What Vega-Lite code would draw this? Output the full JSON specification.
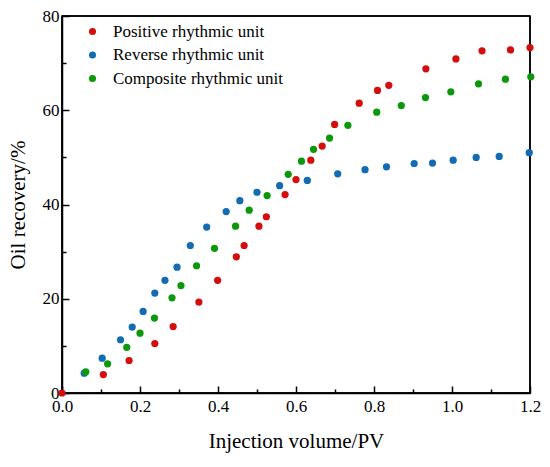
{
  "$schema": "https://vega.github.io/schema/vega-lite/v6.json",
  "autosize": "none",
  "width": 468,
  "height": 377,
  "padding": {"left": 62, "top": 16, "right": 20, "bottom": 74},
  "background": "white",
  "config": {
    "font": "Liberation Serif",
    "view": {"stroke": "black", "strokeWidth": 1.5},
    "axis": {
      "labelFont": "Liberation Serif",
      "titleFont": "Liberation Serif",
      "labelFontSize": 17,
      "titleFontSize": 21,
      "titleFontWeight": "normal",
      "labelColor": "black",
      "titleColor": "black",
      "domainColor": "black",
      "domainWidth": 1.5,
      "tickColor": "black",
      "tickWidth": 1.5,
      "labelFlush": false,
      "grid": false
    }
  },
  "data": {
    "values": [
      {"series": "Positive rhythmic unit", "pv": 0.0, "rec": 0.0},
      {"series": "Positive rhythmic unit", "pv": 0.106, "rec": 3.9},
      {"series": "Positive rhythmic unit", "pv": 0.172, "rec": 6.9},
      {"series": "Positive rhythmic unit", "pv": 0.238, "rec": 10.5},
      {"series": "Positive rhythmic unit", "pv": 0.285, "rec": 14.1},
      {"series": "Positive rhythmic unit", "pv": 0.351, "rec": 19.3},
      {"series": "Positive rhythmic unit", "pv": 0.399, "rec": 23.9},
      {"series": "Positive rhythmic unit", "pv": 0.447, "rec": 28.9},
      {"series": "Positive rhythmic unit", "pv": 0.467, "rec": 31.3},
      {"series": "Positive rhythmic unit", "pv": 0.505, "rec": 35.4},
      {"series": "Positive rhythmic unit", "pv": 0.524, "rec": 37.4},
      {"series": "Positive rhythmic unit", "pv": 0.572, "rec": 42.1},
      {"series": "Positive rhythmic unit", "pv": 0.6, "rec": 45.3},
      {"series": "Positive rhythmic unit", "pv": 0.638, "rec": 49.4},
      {"series": "Positive rhythmic unit", "pv": 0.667, "rec": 52.4},
      {"series": "Positive rhythmic unit", "pv": 0.699, "rec": 57.0},
      {"series": "Positive rhythmic unit", "pv": 0.762, "rec": 61.5},
      {"series": "Positive rhythmic unit", "pv": 0.809, "rec": 64.2},
      {"series": "Positive rhythmic unit", "pv": 0.838, "rec": 65.3},
      {"series": "Positive rhythmic unit", "pv": 0.933, "rec": 68.8},
      {"series": "Positive rhythmic unit", "pv": 1.01, "rec": 70.9},
      {"series": "Positive rhythmic unit", "pv": 1.077, "rec": 72.6},
      {"series": "Positive rhythmic unit", "pv": 1.15, "rec": 72.8},
      {"series": "Positive rhythmic unit", "pv": 1.2, "rec": 73.3},
      {"series": "Reverse rhythmic unit", "pv": 0.057, "rec": 4.2},
      {"series": "Reverse rhythmic unit", "pv": 0.103, "rec": 7.4},
      {"series": "Reverse rhythmic unit", "pv": 0.15, "rec": 11.3},
      {"series": "Reverse rhythmic unit", "pv": 0.18, "rec": 14.0},
      {"series": "Reverse rhythmic unit", "pv": 0.208, "rec": 17.3},
      {"series": "Reverse rhythmic unit", "pv": 0.238, "rec": 21.2},
      {"series": "Reverse rhythmic unit", "pv": 0.264, "rec": 23.9},
      {"series": "Reverse rhythmic unit", "pv": 0.295, "rec": 26.7},
      {"series": "Reverse rhythmic unit", "pv": 0.329, "rec": 31.3},
      {"series": "Reverse rhythmic unit", "pv": 0.371, "rec": 35.2},
      {"series": "Reverse rhythmic unit", "pv": 0.421, "rec": 38.5},
      {"series": "Reverse rhythmic unit", "pv": 0.456, "rec": 40.8},
      {"series": "Reverse rhythmic unit", "pv": 0.5, "rec": 42.6},
      {"series": "Reverse rhythmic unit", "pv": 0.558, "rec": 44.0},
      {"series": "Reverse rhythmic unit", "pv": 0.629, "rec": 45.1},
      {"series": "Reverse rhythmic unit", "pv": 0.707, "rec": 46.5},
      {"series": "Reverse rhythmic unit", "pv": 0.777, "rec": 47.4},
      {"series": "Reverse rhythmic unit", "pv": 0.832, "rec": 48.0},
      {"series": "Reverse rhythmic unit", "pv": 0.903, "rec": 48.7},
      {"series": "Reverse rhythmic unit", "pv": 0.95, "rec": 48.8},
      {"series": "Reverse rhythmic unit", "pv": 1.003, "rec": 49.4},
      {"series": "Reverse rhythmic unit", "pv": 1.062, "rec": 50.0},
      {"series": "Reverse rhythmic unit", "pv": 1.121, "rec": 50.2},
      {"series": "Reverse rhythmic unit", "pv": 1.198, "rec": 51.0},
      {"series": "Composite rhythmic unit", "pv": 0.061, "rec": 4.5},
      {"series": "Composite rhythmic unit", "pv": 0.117, "rec": 6.2},
      {"series": "Composite rhythmic unit", "pv": 0.166, "rec": 9.7},
      {"series": "Composite rhythmic unit", "pv": 0.2, "rec": 12.7},
      {"series": "Composite rhythmic unit", "pv": 0.237, "rec": 15.9},
      {"series": "Composite rhythmic unit", "pv": 0.282, "rec": 20.2},
      {"series": "Composite rhythmic unit", "pv": 0.305, "rec": 22.8},
      {"series": "Composite rhythmic unit", "pv": 0.345, "rec": 27.0},
      {"series": "Composite rhythmic unit", "pv": 0.391, "rec": 30.7},
      {"series": "Composite rhythmic unit", "pv": 0.445, "rec": 35.4},
      {"series": "Composite rhythmic unit", "pv": 0.48, "rec": 38.8},
      {"series": "Composite rhythmic unit", "pv": 0.526, "rec": 41.9},
      {"series": "Composite rhythmic unit", "pv": 0.58, "rec": 46.4},
      {"series": "Composite rhythmic unit", "pv": 0.614, "rec": 49.2},
      {"series": "Composite rhythmic unit", "pv": 0.645, "rec": 51.7},
      {"series": "Composite rhythmic unit", "pv": 0.686, "rec": 54.1},
      {"series": "Composite rhythmic unit", "pv": 0.733, "rec": 56.8},
      {"series": "Composite rhythmic unit", "pv": 0.807, "rec": 59.6},
      {"series": "Composite rhythmic unit", "pv": 0.87, "rec": 61.0},
      {"series": "Composite rhythmic unit", "pv": 0.932, "rec": 62.7},
      {"series": "Composite rhythmic unit", "pv": 0.997, "rec": 63.9},
      {"series": "Composite rhythmic unit", "pv": 1.068, "rec": 65.6},
      {"series": "Composite rhythmic unit", "pv": 1.137, "rec": 66.6},
      {"series": "Composite rhythmic unit", "pv": 1.202, "rec": 67.1}
    ]
  },
  "layer": [
    {
      "mark": {"type": "point", "opacity": 0},
      "encoding": {
        "x": {
          "field": "pv", "type": "quantitative",
          "scale": {"domain": [0, 1.2], "nice": false, "zero": false},
          "axis": {"orient": "bottom", "values": [0.1, 0.3, 0.5, 0.7, 0.9, 1.1], "labels": false, "tickSize": -4, "domain": false, "title": null}
        },
        "y": {
          "field": "rec", "type": "quantitative",
          "scale": {"domain": [0, 80], "nice": false, "zero": false},
          "axis": {"orient": "left", "values": [10, 30, 50, 70], "labels": false, "tickSize": -4, "domain": false, "title": null}
        }
      }
    },
    {
      "data": {
        "values": [
          {"xa": 0, "xb": 1.2, "ya": 80, "yb": 80},
          {"xa": 1.2, "xb": 1.2, "ya": 0, "yb": 80},
          {"xa": 0, "xb": 1.2, "ya": 0, "yb": 0},
          {"xa": 0, "xb": 0, "ya": 0, "yb": 80}
        ]
      },
      "mark": {"type": "rule", "color": "black", "strokeWidth": 1.5, "clip": false},
      "encoding": {
        "x": {"field": "xa", "type": "quantitative", "scale": {"domain": [0, 1.2], "nice": false, "zero": false}, "axis": null},
        "x2": {"field": "xb"},
        "y": {"field": "ya", "type": "quantitative", "scale": {"domain": [0, 80], "nice": false, "zero": false}, "axis": null},
        "y2": {"field": "yb"}
      }
    },
    {
      "mark": {"type": "circle", "size": 52, "opacity": 1, "clip": false},
      "encoding": {
        "x": {
          "field": "pv", "type": "quantitative",
          "title": "Injection volume/PV",
          "scale": {"domain": [0, 1.2], "nice": false, "zero": false},
          "axis": {"orient": "bottom", "values": [0, 0.2, 0.4, 0.6, 0.8, 1.0, 1.2], "format": ".1f", "tickSize": -7, "labelPadding": 12, "titlePadding": 16}
        },
        "y": {
          "field": "rec", "type": "quantitative",
          "title": "Oil recovery/%",
          "scale": {"domain": [0, 80], "nice": false, "zero": false},
          "axis": {"orient": "left", "values": [0, 20, 40, 60, 80], "tickSize": -7, "labelPadding": 10, "titlePadding": 14}
        },
        "color": {
          "field": "series", "type": "nominal",
          "scale": {
            "domain": ["Positive rhythmic unit", "Reverse rhythmic unit", "Composite rhythmic unit"],
            "range": ["#d40d0d", "#126bb3", "#0b990b"]
          },
          "legend": {
            "title": null,
            "orient": "none",
            "legendX": 22,
            "legendY": 7,
            "symbolType": "circle",
            "symbolSize": 50,
            "symbolOpacity": 1,
            "labelFont": "Liberation Serif",
            "labelFontSize": 17,
            "labelColor": "black",
            "labelLimit": 0,
            "labelOffset": 12,
            "rowPadding": 5.5
          }
        },
        "order": {"field": "series", "sort": "descending"}
      }
    }
  ],
  "resolve": {"axis": {"x": "independent", "y": "independent"}}
}
